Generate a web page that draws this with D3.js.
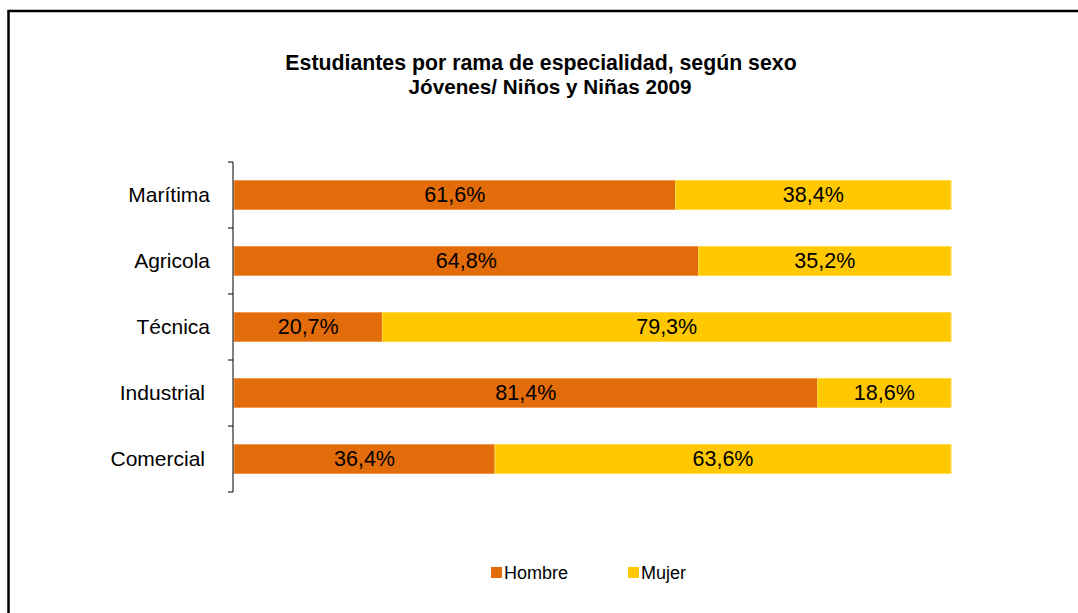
<!DOCTYPE html>
<html lang="es">
<head>
  <meta charset="UTF-8">
  <title>Estudiantes por rama de especialidad, según sexo</title>
  <script src="https://d3js.org/d3.v7.min.js"></script>
  <style>
    body { margin: 0; padding: 0; background: #fff; font-family: "Liberation Sans", Arial, sans-serif; }
  </style>
</head>
<body>
  <div id="chart"></div>
  <script>
    const categories = ["Marítima", "Agricola", "Técnica", "Industrial", "Comercial"];
    const hombre = [61.6, 64.8, 20.7, 81.4, 36.4];
    const mujer = [38.4, 35.2, 79.3, 18.6, 63.6];
    const seriesNames = ["Hombre", "Mujer"];
    const colors = ["#E36C0A", "#FFC800"];
    const strokes = ["#EE9A55", "#FFD84D"];

    const W = 1078, H = 613;
    const svg = d3.select("#chart").append("svg")
      .attr("width", W).attr("height", H);

    // frame (runs off the right/bottom edge like the reference)
    svg.append("rect")
      .attr("x", 8.5).attr("y", 11).attr("width", 1100).attr("height", 640)
      .attr("fill", "#fff").attr("stroke", "#000").attr("stroke-width", 2.5);

    // title
    svg.append("text")
      .attr("x", 541).attr("y", 70).attr("text-anchor", "middle")
      .attr("font-size", 21.3).attr("font-weight", "bold")
      .text("Estudiantes por rama de especialidad, según sexo");
    svg.append("text")
      .attr("x", 550).attr("y", 94).attr("text-anchor", "middle")
      .attr("font-size", 20.7).attr("font-weight", "bold")
      .text("Jóvenes/ Niños y Niñas 2009");

    const x = d3.scaleLinear().domain([0, 100]).range([234, 951]);
    const y = d3.scaleBand().domain(categories).range([162, 492]).paddingInner(0.56).paddingOuter(0.28);

    const rows = categories.map((c, i) => ({ cat: c, vals: [hombre[i], mujer[i]] }));
    const stack = d3.stack().keys([0, 1]).value((d, k) => d.vals[k])(rows);

    stack.forEach((layer, k) => {
      const g = svg.append("g");
      g.selectAll("rect").data(layer).join("rect")
        .attr("x", d => x(d[0]))
        .attr("y", d => y(d.data.cat))
        .attr("width", d => x(d[1]) - x(d[0]))
        .attr("height", y.bandwidth())
        .attr("fill", colors[k])
        .attr("stroke", strokes[k]).attr("stroke-width", 1);
      g.selectAll("text").data(layer).join("text")
        .attr("x", d => (x(d[0]) + x(d[1])) / 2)
        .attr("y", d => y(d.data.cat) + y.bandwidth() / 2 + 7)
        .attr("text-anchor", "middle")
        .attr("font-size", 21.5).attr("fill", "#000")
        .text(d => d3.format(".1f")(d[1] - d[0]).replace(".", ",") + "%");
    });

    // category axis
    const yAxis = svg.append("g").attr("transform", "translate(233,0)");
    yAxis.append("line").attr("x1", 0).attr("x2", 0).attr("y1", 162).attr("y2", 492)
      .attr("stroke", "#000").attr("stroke-width", 1);
    const step = y.step();
    yAxis.selectAll("line.tick").data(d3.range(categories.length + 1)).join("line")
      .attr("class", "tick")
      .attr("x1", -5).attr("x2", 0)
      .attr("y1", i => 162 + i * step).attr("y2", i => 162 + i * step)
      .attr("stroke", "#000");
    yAxis.selectAll("text").data(categories).join("text")
      .attr("x", d => d.length > 8 ? -28 : -23)
      .attr("y", d => y(d) + y.bandwidth() / 2 + 7)
      .attr("text-anchor", "end").attr("font-size", 21)
      .text(d => d);

    // legend
    const legendX = [491, 628];
    const lg = svg.append("g");
    seriesNames.forEach((s, k) => {
      lg.append("rect").attr("x", legendX[k]).attr("y", 567).attr("width", 11).attr("height", 11)
        .attr("fill", colors[k]);
      lg.append("text").attr("x", legendX[k] + 13).attr("y", 579)
        .attr("font-size", 18).text(s);
    });
  </script>
</body>
</html>
